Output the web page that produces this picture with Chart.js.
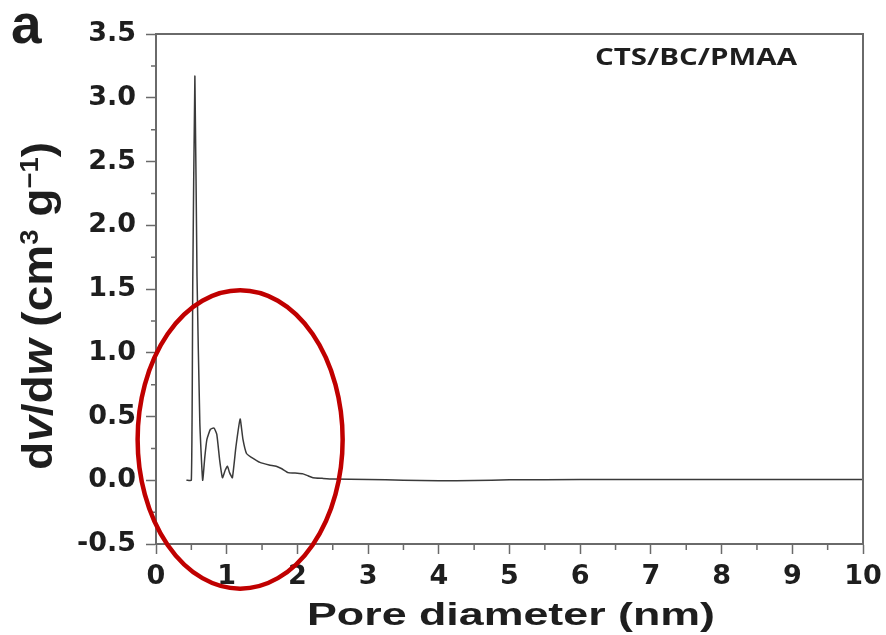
<!DOCTYPE html>
<html><head><meta charset="utf-8">
<script src="https://cdn.jsdelivr.net/npm/chart.js@4"></script>
<style>html,body{margin:0;padding:0;background:#fff}#wrap{width:886px;height:635px;position:relative}</style>
</head><body><div id="wrap"><canvas id="c" width="886" height="635"></canvas></div>
<script>
const poreDiameter = [0.43,0.50,0.52,0.55,0.58,0.62,0.66,0.69,0.72,0.77,0.82,0.86,0.90,0.94,0.98,1.01,1.04,1.08,1.13,1.19,1.23,1.28,1.35,1.47,1.60,1.70,1.78,1.87,2.00,2.08,2.15,2.22,2.35,2.50,3.00,3.50,4.00,4.50,5.00,6.00,7.00,8.00,9.00,10.00];
const dvdw = [0.0,0.0,1.55,3.17,1.6,0.45,0.0,0.18,0.32,0.40,0.41,0.36,0.16,0.02,0.08,0.11,0.06,0.02,0.26,0.48,0.32,0.21,0.18,0.14,0.12,0.11,0.09,0.06,0.055,0.05,0.035,0.02,0.015,0.01,0.006,0.0,-0.004,-0.002,0.003,0.005,0.005,0.005,0.005,0.005];
const xTicks = [0,1,2,3,4,5,6,7,8,9,10];
const yTicks = [-0.5,0.0,0.5,1.0,1.5,2.0,2.5,3.0,3.5];
const seriesLabel = 'CTS/BC/PMAA';
const panelLabel = 'a';
const xTitle = 'Pore diameter (nm)';
const yTitleParts = [['d','n'],['v','i'],['/d','n'],['w','i'],[' (cm','n'],['3','s'],[' g','n'],['\u22121','s'],[')','n']];
const highlight = {cx:1.19, cy:0.32, rx:1.45, ry:1.17};

const SANS = '"Liberation Sans", Arial, sans-serif';

function stretchedText(ctx, text, font, x, y, width, align){
  ctx.save();
  ctx.font = font; ctx.textBaseline='alphabetic'; ctx.textAlign='left';
  const w = ctx.measureText(text).width;
  const k = width / w;
  const x0 = align==='center' ? x - width/2 : x;
  ctx.translate(x0, y); ctx.scale(k, 1);
  ctx.fillText(text, 0, 0);
  ctx.restore();
}

const framePlugin = {
  id:'frame',
  afterDraw(chart){
    const {ctx, chartArea:a, scales:{x,y}} = chart;
    ctx.save();
    ctx.strokeStyle='#6a6a6a'; ctx.lineWidth=2;
    ctx.beginPath();
    ctx.moveTo(a.left,a.top); ctx.lineTo(a.right,a.top); ctx.lineTo(a.right,a.bottom);
    ctx.stroke();
    // minor ticks
    ctx.lineWidth=1.5;
    ctx.beginPath();
    for(let v=-0.25; v<3.5; v+=0.5){const py=y.getPixelForValue(v); ctx.moveTo(a.left,py); ctx.lineTo(a.left-5,py);}
    for(let v=0.5; v<10; v+=1){const px=x.getPixelForValue(v); ctx.moveTo(px,a.bottom); ctx.lineTo(px,a.bottom+6);}
    ctx.stroke();
    ctx.fillStyle='#1e1e1e';
    // panel label
    ctx.font='bold 55px '+SANS; ctx.textAlign='left'; ctx.textBaseline='alphabetic';
    ctx.fillText(panelLabel, 11, 43);
    // series label
    stretchedText(ctx, seriesLabel, 'bold 23px "Open Sans", sans-serif', 595, 65, 202, 'left');
    // x title
    stretchedText(ctx, xTitle, 'bold 32px '+SANS, 511, 625, 408, 'center');
    // y title with italic parts
    const fontFor=(s)=> s==='s' ? 'bold 25px '+SANS : (s==='i' ? 'italic bold 42px ' : 'bold 42px ')+SANS;
    let total=0;
    yTitleParts.forEach(p=>{ctx.font=fontFor(p[1]); total+=ctx.measureText(p[0]).width;});
    const k = 328/total;
    ctx.save();
    ctx.translate(52, 306); ctx.rotate(-Math.PI/2); ctx.scale(k,1);
    let cx=-total/2;
    yTitleParts.forEach(p=>{ctx.font=fontFor(p[1]); ctx.textBaseline='alphabetic'; ctx.textAlign='left';
      const dy = p[1]==='s' ? -14 : 0;
      ctx.fillText(p[0], cx, dy); cx+=ctx.measureText(p[0]).width;});
    ctx.restore();
    ctx.restore();
    // highlight ellipse
    ctx.save();
    const ex=x.getPixelForValue(highlight.cx), ey=y.getPixelForValue(highlight.cy);
    const erx=x.getPixelForValue(highlight.cx+highlight.rx)-ex;
    const ery=ey-y.getPixelForValue(highlight.cy+highlight.ry);
    ctx.strokeStyle='#c00000'; ctx.lineWidth=4.5;
    ctx.beginPath(); ctx.ellipse(ex,ey,erx,ery,0,0,Math.PI*2); ctx.stroke();
    ctx.restore();
  }
};

const tickFont = {family:'"DejaVu Sans", sans-serif', size:27, weight:'bold'};

new Chart(document.getElementById('c'), {
  type:'line',
  data:{datasets:[{label:seriesLabel, data:poreDiameter.map((d,i)=>({x:d,y:dvdw[i]})),
    borderColor:'#3a3a3a', borderWidth:1.5, pointRadius:0, tension:0.15, fill:false}]},
  options:{
    responsive:false, animation:false,
    layout:{padding:{left:0,right:23,top:34,bottom:0}},
    plugins:{legend:{display:false}, tooltip:{enabled:false}},
    scales:{
      x:{type:'linear', min:0, max:10,
        afterBuildTicks(s){s.ticks=xTicks.map(v=>({value:v}));},
        afterFit(s){s.height=91; s.paddingRight=0; s.paddingLeft=0;},
        ticks:{color:'#1e1e1e', font:tickFont, padding:7, maxRotation:0, autoSkip:false, callback:v=>String(v)},
        grid:{drawOnChartArea:false, tickLength:10, tickWidth:1.5, tickColor:'#6a6a6a'},
        border:{color:'#6a6a6a', width:2}
      },
      y:{type:'linear', min:-0.5, max:3.5,
        afterBuildTicks(s){s.ticks=yTicks.map(v=>({value:v}));},
        afterFit(s){s.width=156; s.paddingTop=0; s.paddingBottom=0;},
        ticks:{color:'#1e1e1e', font:tickFont, padding:10, autoSkip:false, callback:v=>Number(v).toFixed(1)},
        grid:{drawOnChartArea:false, tickLength:10, tickWidth:1.5, tickColor:'#6a6a6a'},
        border:{color:'#6a6a6a', width:2}
      }
    }
  },
  plugins:[framePlugin]
});
</script></body></html>
